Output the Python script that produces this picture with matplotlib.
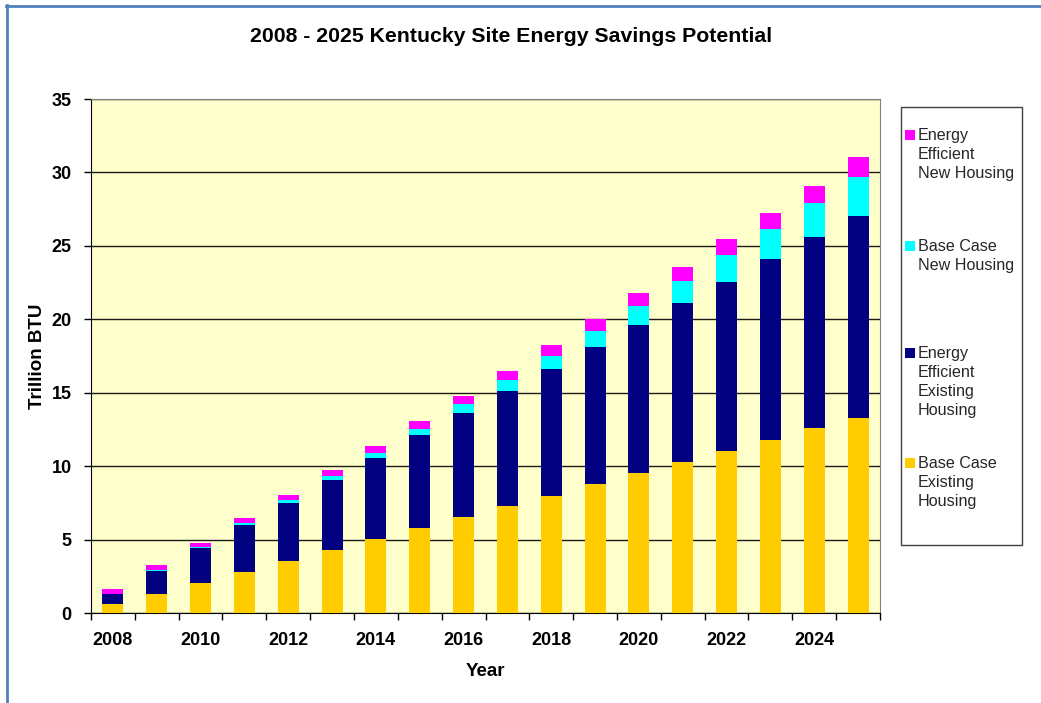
import matplotlib
matplotlib.use("Agg")
import matplotlib.pyplot as plt
from matplotlib.patches import Rectangle
from matplotlib.lines import Line2D
import numpy as np

plt.rcParams['font.family'] = ['Liberation Sans', 'DejaVu Sans']

years = list(range(2008, 2026))
# Trillion BTU, stacked bottom to top
base_existing = [0.60, 1.30, 2.06, 2.81, 3.52, 4.29, 5.06, 5.77, 6.56, 7.31, 7.99, 8.76, 9.55, 10.30, 11.03, 11.78, 12.58, 13.26]
ee_existing   = [0.66, 1.55, 2.35, 3.20, 3.95, 4.77, 5.47, 6.35, 7.04, 7.81, 8.60, 9.37, 10.06, 10.79, 11.51, 12.32, 13.00, 13.77]
base_new      = [0.04, 0.07, 0.08, 0.10, 0.22, 0.27, 0.34, 0.41, 0.61, 0.75, 0.91, 1.07, 1.32, 1.51, 1.84, 2.03, 2.32, 2.64]
ee_new        = [0.33, 0.32, 0.30, 0.38, 0.37, 0.41, 0.50, 0.54, 0.59, 0.63, 0.77, 0.82, 0.88, 0.98, 1.09, 1.13, 1.20, 1.36]

series = [
    ("Base Case\nExisting\nHousing", base_existing, "#FFCC00"),
    ("Energy\nEfficient\nExisting\nHousing", ee_existing, "#000080"),
    ("Base Case\nNew Housing", base_new, "#00FFFF"),
    ("Energy\nEfficient\nNew Housing", ee_new, "#FF00FF"),
]

W, H = 1041, 703
fig = plt.figure(figsize=(W / 100, H / 100), dpi=100)
ax = fig.add_axes([91 / W, 1 - 613 / H, (880 - 91) / W, (613 - 99) / H])
ax.set_facecolor("#FFFFCC")

x = np.arange(len(years))
bottom = np.zeros(len(years))
for label, vals, col in series:
    ax.bar(x, vals, 0.48, bottom=bottom, color=col, zorder=3, linewidth=0)
    bottom += np.array(vals)

ax.set_xlim(-0.5, len(years) - 0.5)
ax.set_ylim(0, 35)
ax.set_yticks(range(0, 36, 5))
ax.yaxis.grid(True, color="#1a1a1a", linewidth=1.0, zorder=1)
ax.set_axisbelow(True)

# tick marks sit between categories, labels on every other year
ax.set_xticks(np.arange(-0.5, len(years), 1.0))
ax.set_xticklabels([])
ax.set_xticks(x[::2], minor=True)
ax.set_xticklabels([str(y) for y in years[::2]], minor=True)
ax.tick_params(axis="x", which="major", length=5, width=1, direction="out", color="#000000")
ax.tick_params(axis="x", which="minor", length=0, pad=14, labelsize=13)
ax.tick_params(axis="y", length=5, width=1, direction="out", pad=9, labelsize=13)
for lab in ax.get_xticklabels(minor=True) + ax.get_yticklabels():
    lab.set_fontweight("bold")

for s in ("top", "right"):
    ax.spines[s].set_color("#808080")
for s in ("left", "bottom"):
    ax.spines[s].set_color("#000000")

ax.set_xlabel("Year", fontsize=13.5, fontweight="bold", labelpad=10)
ax.set_ylabel("Trillion BTU", fontsize=13.5, fontweight="bold", labelpad=4)

fig.text(511 / W, 1 - 37 / H, "2008 - 2025 Kentucky Site Energy Savings Potential",
         ha="center", va="center", fontsize=15.3, fontweight="bold")

# legend box
fig.patches.append(Rectangle((901 / W, 1 - 545 / H), (1022 - 901) / W, (545 - 107) / H,
                             transform=fig.transFigure, facecolor="white",
                             edgecolor="#404040", linewidth=1))
legend_rows = [(135, series[3]), (246, series[2]), (353, series[1]), (463, series[0])]
for ypix, (label, _, col) in legend_rows:
    fig.patches.append(Rectangle((905 / W, 1 - (ypix + 5) / H), 10 / W, 10 / H,
                                 transform=fig.transFigure, facecolor=col, edgecolor="none"))
    fig.text(918 / W, 1 - (ypix - 7) / H, label, ha="left", va="top",
             fontsize=11.6, color="#262626", linespacing=1.33)

# outer frame on top and left edges
fig.add_artist(Line2D([6.5 / W, 6.5 / W], [0, 1 - 5 / H], transform=fig.transFigure,
                      color="#4F81BD", linewidth=2))
fig.add_artist(Line2D([6 / W, 1], [1 - 5.5 / H, 1 - 5.5 / H], transform=fig.transFigure,
                      color="#4F81BD", linewidth=2))

fig.savefig("out.png", dpi=100)
